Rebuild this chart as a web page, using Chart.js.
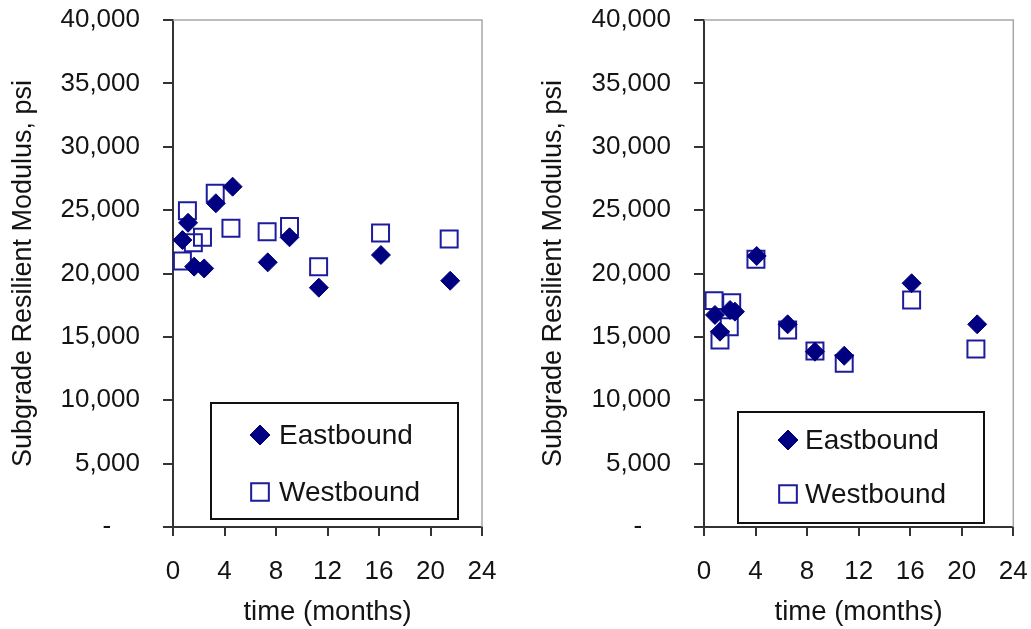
<!DOCTYPE html>
<html>
<head>
<meta charset="utf-8">
<script src="https://cdn.jsdelivr.net/npm/chart.js@4/dist/chart.umd.min.js"></script>
<style>
  html, body { margin: 0; padding: 0; background: #fff; }
  .box { position: absolute; top: 0; width: 501px; height: 629px; }
</style>
</head>
<body>
<div class="box" style="left:0"><canvas id="chartLeft" width="501" height="629"></canvas></div>
<div class="box" style="left:530px"><canvas id="chartRight" width="501" height="629"></canvas></div>
<script>
// datos
const monthTicks = [0, 4, 8, 12, 16, 20, 24];
const modulusTicks = [0, 5000, 10000, 15000, 20000, 25000, 30000, 35000, 40000];

// grafico izquierdo
const eastMonthsL = [0.73, 1.17, 1.64, 2.42, 3.33, 4.63, 7.36, 9.05, 11.33, 16.15, 21.53];
const eastValuesL = [22640, 24000, 20540, 20400, 25540, 26850, 20880, 22860, 18880, 21460, 19430];
const westMonthsL = [0.73, 1.12, 1.58, 2.29, 3.28, 4.5, 7.31, 9.05, 11.31, 16.12, 21.45];
const westValuesL = [20990, 24950, 22430, 22860, 26330, 23570, 23300, 23700, 20540, 23200, 22720];

// grafico derecho
const eastMonthsR = [0.85, 1.24, 2.02, 2.4, 4.09, 6.49, 8.61, 10.88, 16.11, 21.2];
const eastValuesR = [16730, 15410, 17120, 16990, 21380, 15990, 13830, 13510, 19230, 15990];
const westMonthsR = [0.78, 1.24, 1.96, 2.15, 4.03, 6.49, 8.61, 10.88, 16.11, 21.1];
const westValuesR = [17860, 14750, 15800, 17700, 21120, 15540, 13890, 12910, 17910, 14040];

const seriesNames = ['Eastbound', 'Westbound'];
const navy = '#000080';
const textColor = '#141414';

function toPoints(xs, ys) {
  return xs.map((x, i) => ({ x: x, y: ys[i] }));
}

// marco gris arriba y a la derecha + leyenda dentro del area
function framePlugin(legendBox) {
  return {
    id: 'frameLegend',
    afterDraw(chart) {
      const ctx = chart.ctx;
      const a = chart.chartArea;
      ctx.save();
      ctx.strokeStyle = '#a6a6a6';
      ctx.lineWidth = 1.5;
      ctx.beginPath();
      ctx.moveTo(a.left, a.top);
      ctx.lineTo(a.right, a.top);
      ctx.lineTo(a.right, a.bottom);
      ctx.stroke();

      // leyenda
      const b = legendBox;
      ctx.fillStyle = '#fff';
      ctx.fillRect(b.x, b.y, b.w, b.h);
      ctx.strokeStyle = '#111';
      ctx.lineWidth = 2;
      ctx.strokeRect(b.x, b.y, b.w, b.h);
      chart.data.datasets.forEach((d, i) => {
        const my = b.rowY[i];
        ctx.fillStyle = d.backgroundColor;
        ctx.strokeStyle = d.borderColor;
        ctx.lineWidth = d.borderWidth;
        Chart.helpers.drawPoint(ctx, {
          pointStyle: d.pointStyle,
          radius: i === 0 ? 10 : 12.5,
          borderWidth: d.borderWidth
        }, b.markerX, my);
        ctx.fillStyle = textColor;
        ctx.font = '28px "Liberation Sans", Arial, sans-serif';
        ctx.textAlign = 'left';
        ctx.textBaseline = 'middle';
        ctx.fillText(d.label, b.textX, my + 1);
      });
      ctx.restore();
    }
  };
}

function makeChart(id, east, west, area, legendBox) {
  const font = { family: '"Liberation Sans", Arial, sans-serif', size: 26 };
  return new Chart(document.getElementById(id), {
    type: 'scatter',
    data: {
      datasets: [
        {
          label: seriesNames[0],
          data: east,
          pointStyle: 'rectRot',
          pointRadius: 9.5,
          pointHoverRadius: 9.5,
          backgroundColor: navy,
          borderColor: navy,
          borderWidth: 1
        },
        {
          label: seriesNames[1],
          data: west,
          pointStyle: 'rect',
          pointRadius: 12,
          pointHoverRadius: 12,
          backgroundColor: 'rgba(255,255,255,0)',
          borderColor: '#1c1c9c',
          borderWidth: 2
        }
      ]
    },
    options: {
      responsive: false,
      animation: false,
      layout: { padding: { left: 0, top: 20, right: area.right, bottom: 0 } },
      plugins: { legend: { display: false }, tooltip: { enabled: false } },
      scales: {
        x: {
          type: 'linear',
          min: 0,
          max: 24,
          afterBuildTicks(scale) { scale.ticks = monthTicks.map(v => ({ value: v })); },
          afterFit(scale) {
            scale.height = 102;
            scale.paddingLeft = 0;
            scale.paddingRight = 0;
          },
          grid: { drawOnChartArea: false, drawTicks: true, tickLength: 9, color: '#333', lineWidth: 2 },
          border: { color: '#333', width: 2 },
          ticks: { color: textColor, font: font, padding: 20, maxRotation: 0 },
          title: {
            display: true,
            text: 'time (months)',
            color: textColor,
            font: { family: font.family, size: 27.5 },
            padding: { top: 0, bottom: 0 }
          }
        },
        y: {
          type: 'linear',
          min: 0,
          max: 40000,
          afterBuildTicks(scale) { scale.ticks = modulusTicks.map(v => ({ value: v })); },
          afterFit(scale) {
            scale.width = area.left;
            scale.paddingTop = 0;
            scale.paddingBottom = 0;
          },
          grid: { drawOnChartArea: false, drawTicks: true, tickLength: 10, color: '#333', lineWidth: 2 },
          border: { color: '#333', width: 2 },
          ticks: {
            color: textColor,
            font: font,
            padding: 23,
            callback: v => v === 0 ? '-    ' : v.toLocaleString('en-US')
          },
          title: {
            display: true,
            text: 'Subgrade Resilient Modulus, psi',
            color: textColor,
            font: { family: font.family, size: 27 },
            padding: { top: 7, bottom: 0 }
          }
        }
      }
    },
    plugins: [framePlugin(legendBox)]
  });
}

makeChart('chartLeft',
  toPoints(eastMonthsL, eastValuesL),
  toPoints(westMonthsL, westValuesL),
  { left: 173, right: 19 },
  { x: 211, y: 403, w: 247, h: 116, markerX: 260, textX: 279, rowY: [435, 492] });

makeChart('chartRight',
  toPoints(eastMonthsR, eastValuesR),
  toPoints(westMonthsR, westValuesR),
  { left: 174, right: 17.7 },
  { x: 208, y: 412, w: 246, h: 111, markerX: 258, textX: 275, rowY: [440, 494] });
</script>
</body>
</html>
